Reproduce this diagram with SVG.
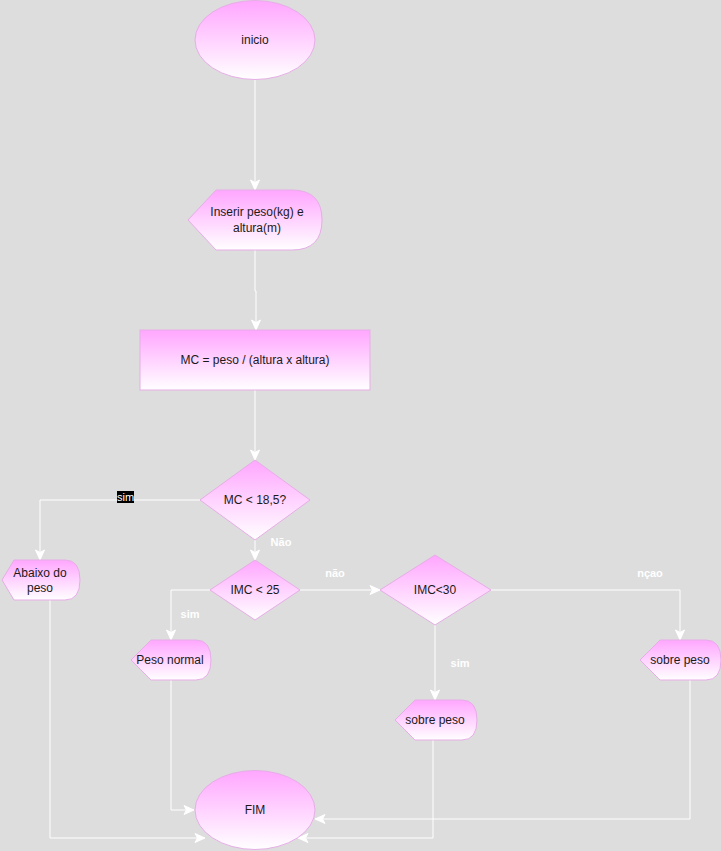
<svg xmlns="http://www.w3.org/2000/svg" width="721" height="851" viewBox="0 0 721 851">
<defs>
<linearGradient id="g" x1="0" y1="0" x2="0" y2="1">
<stop offset="0" stop-color="#FFA6FF"/>
<stop offset="1" stop-color="#FFFFFF"/>
</linearGradient>
<marker id="arr" markerUnits="userSpaceOnUse" markerWidth="12" markerHeight="12" viewBox="0 0 12 12" refX="11" refY="6" orient="auto">
<path d="M1,1.5 L11,6 L1,10.5 L3.5,6 Z" fill="#ffffff" stroke="#ffffff" stroke-width="1"/>
</marker>
<style>
.n{fill:url(#g);stroke:#E6ADE6;stroke-width:1}
.t{font-family:"Liberation Sans",Arial,sans-serif;font-size:12px;fill:#1a1a1a;text-anchor:middle}
.c{fill:none;stroke:#ffffff;stroke-width:1;marker-end:url(#arr)}
.l{font-family:"Liberation Sans",Arial,sans-serif;font-size:11px;font-weight:bold;fill:#ffffff;text-anchor:middle}
.lb{font-family:"Liberation Sans",Arial,sans-serif;font-size:11px;font-weight:normal;fill:#ffffff;text-anchor:middle}
</style>
</defs>
<rect x="0" y="0" width="721" height="851" fill="#dddddd"/>
<g id="connectors">
<path class="c" d="M255,80 V190"/>
<path class="c" d="M255,250 V291 H256 V330"/>
<path class="c" d="M255,390 V460"/>
<path class="c" d="M200,500 H40 V560"/>
<path class="c" d="M255,540 V560"/>
<path class="c" d="M210,590 H171 V640"/>
<path class="c" d="M300,590 H380"/>
<path class="c" d="M491,590 H680 V640"/>
<path class="c" d="M435,625 V700"/>
<path class="c" d="M50,600 V838 H205"/>
<path class="c" d="M171,680 V810 H194"/>
<path class="c" d="M433,740 V838 H298"/>
<path class="c" d="M690,680 V819 H315"/>
<rect x="117" y="491" width="17" height="12" fill="#000000"/>
<text class="lb" x="125.5" y="501">sim</text>
<text class="l" x="281" y="546">Não</text>
<text class="l" x="190" y="618">sim</text>
<text class="l" x="335" y="577">não</text>
<text class="l" x="650" y="577">nçao</text>
<text class="l" x="460" y="667">sim</text>
</g>
<g id="inicio">
<ellipse class="n" cx="255" cy="40" rx="60" ry="39.5"/>
<text class="t" x="255" y="44">inicio</text>
</g>
<g id="inserir">
<path class="n" d="M188,220 L216,190 L292,190 Q322,190 322,220 Q322,250 292,250 L216,250 Z"/>
<text class="t" x="257" y="216">Inserir peso(kg) e</text>
<text class="t" x="257" y="232">altura(m)</text>
</g>
<g id="calculo">
<rect class="n" x="140" y="330" width="230" height="60"/>
<text class="t" x="255" y="364">MC = peso / (altura x altura)</text>
</g>
<g id="dec1">
<path class="n" d="M255,460 L310,500 L255,540 L200,500 Z"/>
<text class="t" x="255" y="504">MC &lt; 18,5?</text>
</g>
<g id="abaixo">
<path class="n" d="M2,580 L14,560 L65,560 Q80,560 80,580 Q80,600 65,600 L14,600 Z"/>
<text class="t" x="40" y="577">Abaixo do</text>
<text class="t" x="40" y="592">peso</text>
</g>
<g id="dec2">
<path class="n" d="M255,560 L300,590 L255,620 L210,590 Z"/>
<text class="t" x="255" y="594">IMC &lt; 25</text>
</g>
<g id="dec3">
<path class="n" d="M435,555 L491,590 L435,625 L380,590 Z"/>
<text class="t" x="435" y="594">IMC&lt;30</text>
</g>
<g id="normal">
<path class="n" d="M131,660 L151,640 L196,640 Q211,640 211,660 Q211,680 196,680 L151,680 Z"/>
<text class="t" x="170" y="664">Peso normal</text>
</g>
<g id="sobre1">
<path class="n" d="M395,720 L415,700 L462,700 Q477,700 477,720 Q477,740 462,740 L415,740 Z"/>
<text class="t" x="435" y="724">sobre peso</text>
</g>
<g id="sobre2">
<path class="n" d="M640,660 L660,640 L706,640 Q721,640 721,660 Q721,680 706,680 L660,680 Z"/>
<text class="t" x="680" y="664">sobre peso</text>
</g>
<g id="fim">
<ellipse class="n" cx="255" cy="810" rx="60" ry="39.5"/>
<text class="t" x="255" y="814">FIM</text>
</g>
</svg>
